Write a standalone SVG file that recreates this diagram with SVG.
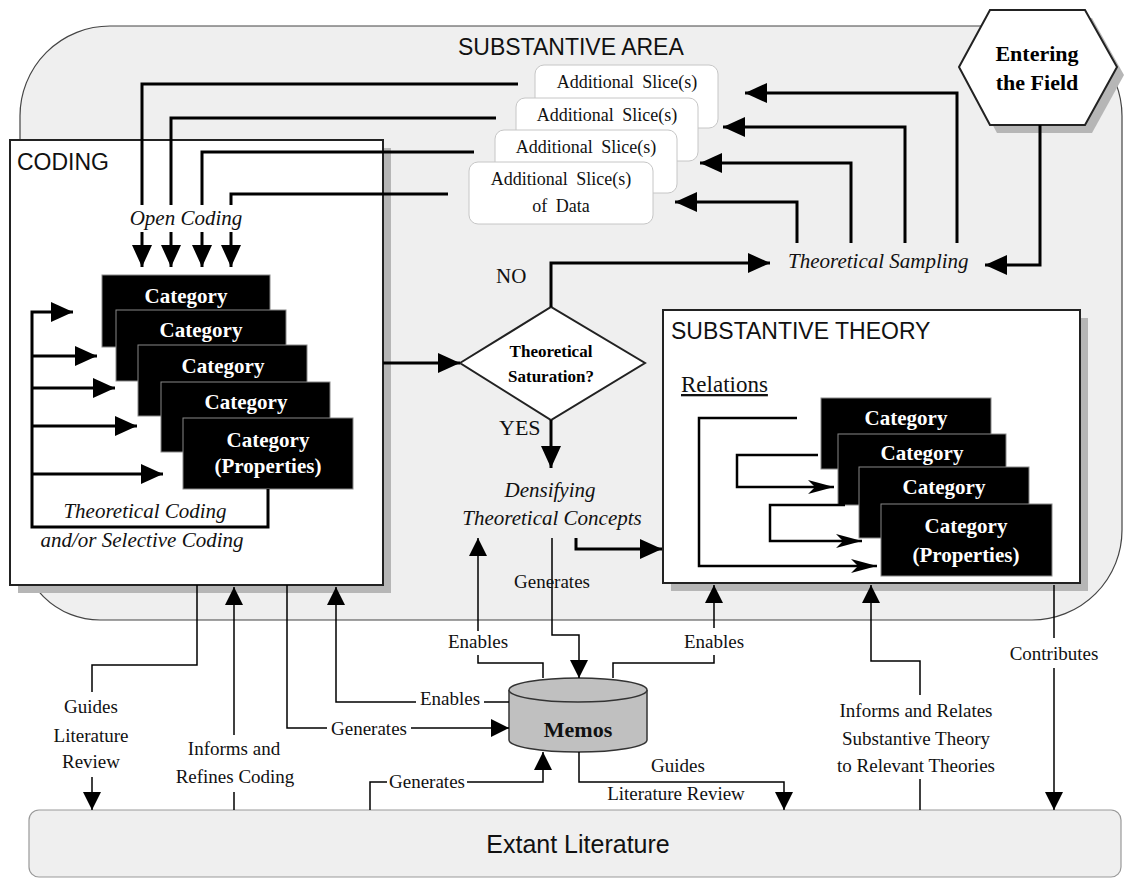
<svg xmlns="http://www.w3.org/2000/svg" width="1124" height="879" viewBox="0 0 1124 879">
  <style>
    .ser { font-family: "Liberation Serif", "Times New Roman", serif; }
    .sans { font-family: "Liberation Sans", Arial, sans-serif; }
    .it { font-style: italic; }
    .head { font-size: 23px; fill: #111; }
    .slice { font-size: 18px; word-spacing: 4px; fill: #111; }
    .cat { font-size: 21px; font-weight: bold; fill: #fff; text-anchor: middle; }
    .lbl { font-size: 19px; fill: #111; text-anchor: middle; }
    .proc { font-size: 21px; fill: #111; }
    .thick { stroke: #000; stroke-width: 3; fill: none; }
    .rel { stroke: #000; stroke-width: 2.5; fill: none; }
    .thin { stroke: #000; stroke-width: 1.5; fill: none; }
    .catbox { fill: #000; stroke: #888; stroke-width: 1; }
    .slicebox { fill: #fff; stroke: #c6c6c6; stroke-width: 1; }
    .shadow { fill: #b6b6b6; }
  </style>
  <defs>
    <marker id="big" markerUnits="userSpaceOnUse" viewBox="0 0 22 20" markerWidth="22" markerHeight="20" refX="22" refY="10" orient="auto">
      <path d="M0,0 L22,10 L0,20 Z" fill="#000"/>
    </marker>
    <marker id="small" markerUnits="userSpaceOnUse" viewBox="0 0 18 18" markerWidth="18" markerHeight="18" refX="18" refY="9" orient="auto">
      <path d="M0,0 L18,9 L0,18 Z" fill="#000"/>
    </marker>
    <marker id="barb" markerUnits="userSpaceOnUse" viewBox="0 0 26 14" markerWidth="26" markerHeight="14" refX="26" refY="7" orient="auto">
      <path d="M0,0 L26,7 L0,14 L7,7 Z" fill="#000"/>
    </marker>
  </defs>

  <!-- substantive area backdrop -->
  <g id="substantive-area">
    <path d="M110,26 H1032 A90,90 0 0 1 1122,116 V530 A90,90 0 0 1 1032,620 H100 A80,80 0 0 1 20,540 V116 A90,90 0 0 1 110,26 Z" fill="#efefef" stroke="#444" stroke-width="1.2"/>
    <text class="sans head" x="458" y="55">SUBSTANTIVE AREA</text>
  </g>

  <!-- entering the field -->
  <g id="entering-field">
    <polygon class="shadow" points="966,75 997,18 1092,18 1124,75 1092,133 997,133"/>
    <polygon points="959,67 990,10 1085,10 1117,67 1085,125 990,125" fill="#fff" stroke="#222" stroke-width="2"/>
    <text class="ser" font-size="22" font-weight="bold" text-anchor="middle" x="1037" y="61">Entering</text>
    <text class="ser" font-size="22" font-weight="bold" text-anchor="middle" x="1037" y="90">the Field</text>
  </g>

  <!-- slices of data -->
  <g id="slices">
    <rect class="slicebox" x="535" y="65" width="183" height="63" rx="9"/>
    <text class="ser slice" text-anchor="middle" x="627" y="88">Additional Slice(s)</text>
    <rect class="slicebox" x="516" y="98" width="182" height="63" rx="9"/>
    <text class="ser slice" text-anchor="middle" x="607" y="121">Additional Slice(s)</text>
    <rect class="slicebox" x="495" y="130" width="182" height="63" rx="9"/>
    <text class="ser slice" text-anchor="middle" x="586" y="153">Additional Slice(s)</text>
    <rect class="slicebox" x="469" y="162" width="184" height="62" rx="9"/>
    <text class="ser slice" text-anchor="middle" x="561" y="185">Additional Slice(s)</text>
    <text class="ser slice" text-anchor="middle" x="561" y="212">of Data</text>
  </g>

  <!-- coding panel -->
  <g id="coding">
    <rect class="shadow" x="18" y="148" width="373" height="445"/>
    <rect x="10" y="140" width="373" height="445" fill="#fff" stroke="#222" stroke-width="2"/>
    <text class="sans head" x="17" y="170">CODING</text>
    <text class="ser it proc" text-anchor="middle" x="186" y="225">Open Coding</text>
    <text class="ser it proc" text-anchor="middle" x="145" y="518">Theoretical Coding</text>
    <text class="ser it proc" text-anchor="middle" x="142" y="547">and/or Selective Coding</text>
  </g>

  <g id="coding-categories">
    <rect class="catbox" x="102" y="275" width="168" height="72"/>
    <text class="ser cat" x="186" y="303">Category</text>
    <rect class="catbox" x="116" y="310" width="170" height="71"/>
    <text class="ser cat" x="201" y="337">Category</text>
    <rect class="catbox" x="138" y="345" width="169" height="71"/>
    <text class="ser cat" x="223" y="373">Category</text>
    <rect class="catbox" x="161" y="382" width="169" height="70"/>
    <text class="ser cat" x="246" y="409">Category</text>
    <rect class="catbox" x="183" y="418" width="170" height="71"/>
    <text class="ser cat" x="268" y="447">Category</text>
    <text class="ser cat" x="268" y="473">(Properties)</text>
  </g>

  <!-- saturation decision -->
  <g id="saturation">
    <polygon points="460,363 551,307 645,363 551,420" fill="#fff" stroke="#222" stroke-width="2"/>
    <text class="ser" font-size="17" font-weight="bold" text-anchor="middle" x="551" y="357">Theoretical</text>
    <text class="ser" font-size="17" font-weight="bold" text-anchor="middle" x="551" y="382">Saturation?</text>
    <text class="ser" font-size="21" x="496" y="283" fill="#111">NO</text>
    <text class="ser" font-size="22" x="499" y="435" fill="#111">YES</text>
  </g>

  <g id="theoretical-sampling">
    <text class="ser it proc" x="788" y="268">Theoretical Sampling</text>
  </g>

  <g id="densifying">
    <text class="ser it proc" text-anchor="middle" x="550" y="497">Densifying</text>
    <text class="ser it proc" text-anchor="middle" x="552" y="525">Theoretical Concepts</text>
  </g>

  <!-- substantive theory panel -->
  <g id="substantive-theory">
    <rect class="shadow" x="671" y="318" width="417" height="273"/>
    <rect x="663" y="310" width="417" height="273" fill="#fff" stroke="#222" stroke-width="2"/>
    <text class="sans head" x="671" y="339">SUBSTANTIVE THEORY</text>
    <text class="ser" font-size="23" x="681" y="392" text-decoration="underline" fill="#111">Relations</text>
    <rect class="catbox" x="821" y="398" width="170" height="71"/>
    <text class="ser cat" x="906" y="425">Category</text>
    <rect class="catbox" x="838" y="434" width="168" height="71"/>
    <text class="ser cat" x="922" y="460">Category</text>
    <rect class="catbox" x="859" y="467" width="170" height="71"/>
    <text class="ser cat" x="944" y="494">Category</text>
    <rect class="catbox" x="881" y="504" width="171" height="72"/>
    <text class="ser cat" x="966" y="533">Category</text>
    <text class="ser cat" x="966" y="562">(Properties)</text>
  </g>

  <!-- memos store -->
  <g id="memos">
    <path d="M509,690 V740 A69,12 0 0 0 647,740 V690" fill="#c0c0c0" stroke="#333" stroke-width="1.5"/>
    <ellipse cx="578" cy="690" rx="69" ry="12" fill="#c0c0c0" stroke="#333" stroke-width="1.5"/>
    <text class="ser" font-size="22" font-weight="bold" text-anchor="middle" x="578" y="737" fill="#111">Memos</text>
  </g>

  <!-- extant literature -->
  <g id="extant-literature">
    <rect x="29" y="810" width="1092" height="67" rx="10" fill="#efefef" stroke="#999" stroke-width="1.2"/>
    <text class="sans" font-size="25" text-anchor="middle" x="578" y="853" fill="#111">Extant Literature</text>
  </g>

  <!-- connectors -->
  <g id="connectors">
    <!-- slices feeding open coding -->
    <path class="thick" d="M518,84 H142 V205"/>
    <path class="thick" d="M496,118 H171 V205"/>
    <path class="thick" d="M474,152 H202 V205"/>
    <path class="thick" d="M448,194 H231 V205"/>
    <path class="thick" d="M142,232 V267" marker-end="url(#big)"/>
    <path class="thick" d="M171,232 V267" marker-end="url(#big)"/>
    <path class="thick" d="M202,232 V267" marker-end="url(#big)"/>
    <path class="thick" d="M231,232 V267" marker-end="url(#big)"/>

    <!-- theoretical sampling back to new slices -->
    <path class="thick" d="M957,243 V93 H745" marker-end="url(#big)"/>
    <path class="thick" d="M905,243 V127 H723" marker-end="url(#big)"/>
    <path class="thick" d="M851,243 V163 H700" marker-end="url(#big)"/>
    <path class="thick" d="M797,243 V202 H675" marker-end="url(#big)"/>
    <path class="thick" d="M1040,125 V265 H985" marker-end="url(#big)"/>

    <!-- decision flow -->
    <path class="thick" d="M551,307 V263 H770" marker-end="url(#big)"/>
    <path class="thick" d="M551,420 V468" marker-end="url(#big)"/>
    <path class="thick" d="M383,363 H460" marker-end="url(#big)"/>
    <path class="thick" d="M576,538 V549 H662" marker-end="url(#big)"/>

    <!-- theoretical / selective coding loop -->
    <path class="thick" d="M268,489 V527 H32 V312 H73" marker-end="url(#big)"/>
    <path class="thick" d="M32,356 H97" marker-end="url(#big)"/>
    <path class="thick" d="M32,388 H115" marker-end="url(#big)"/>
    <path class="thick" d="M32,426 H137" marker-end="url(#big)"/>
    <path class="thick" d="M32,474 H163" marker-end="url(#big)"/>

    <!-- relations among categories -->
    <path class="rel" d="M797,418 H699 V566 H877" marker-end="url(#barb)"/>
    <path class="rel" d="M818,455 H737 V487 H834" marker-end="url(#barb)"/>
    <path class="rel" d="M845,505 H770 V541 H862" marker-end="url(#barb)"/>

    <!-- memo and literature links -->
    <path class="thin" d="M552,538 V635 H579 V678" marker-end="url(#small)"/>
    <path class="thin" d="M543,678 V663 H478 V655"/>
    <path class="thin" d="M478,631 V538" marker-end="url(#small)"/>
    <path class="thin" d="M613,678 V663 H714 V655"/>
    <path class="thin" d="M714,628 V585" marker-end="url(#small)"/>
    <path class="thin" d="M509,702 H484"/>
    <path class="thin" d="M416,702 H336 V587" marker-end="url(#small)"/>
    <path class="thin" d="M287,585 V728 H327"/>
    <path class="thin" d="M411,728 H509" marker-end="url(#small)"/>
    <path class="thin" d="M370,810 V782 H387"/>
    <path class="thin" d="M467,782 H543 V752" marker-end="url(#small)"/>
    <path class="thin" d="M579,752 V782 H784 V810" marker-end="url(#small)"/>
    <path class="thin" d="M197,585 V665 H92 V692"/>
    <path class="thin" d="M92,777 V810" marker-end="url(#small)"/>
    <path class="thin" d="M234,810 V792"/>
    <path class="thin" d="M234,735 V587" marker-end="url(#small)"/>
    <path class="thin" d="M920,810 V779"/>
    <path class="thin" d="M920,695 V661 H871 V585" marker-end="url(#small)"/>
    <path class="thin" d="M1054,585 V638"/>
    <path class="thin" d="M1054,668 V810" marker-end="url(#small)"/>
  </g>

  <!-- connector labels -->
  <g id="connector-labels">
    <text class="ser lbl" x="552" y="588">Generates</text>
    <text class="ser lbl" x="478" y="648">Enables</text>
    <text class="ser lbl" x="714" y="648">Enables</text>
    <text class="ser lbl" x="450" y="705">Enables</text>
    <text class="ser lbl" x="369" y="735">Generates</text>
    <text class="ser lbl" x="427" y="788">Generates</text>
    <text class="ser lbl" x="678" y="772">Guides</text>
    <text class="ser lbl" x="676" y="800">Literature Review</text>
    <text class="ser lbl" x="91" y="713">Guides</text>
    <text class="ser lbl" x="91" y="742">Literature</text>
    <text class="ser lbl" x="91" y="768">Review</text>
    <text class="ser lbl" x="234" y="755">Informs and</text>
    <text class="ser lbl" x="235" y="783">Refines Coding</text>
    <text class="ser lbl" x="916" y="717">Informs and Relates</text>
    <text class="ser lbl" x="916" y="745">Substantive Theory</text>
    <text class="ser lbl" x="916" y="772">to Relevant Theories</text>
    <text class="ser lbl" x="1054" y="660">Contributes</text>
  </g>
</svg>
